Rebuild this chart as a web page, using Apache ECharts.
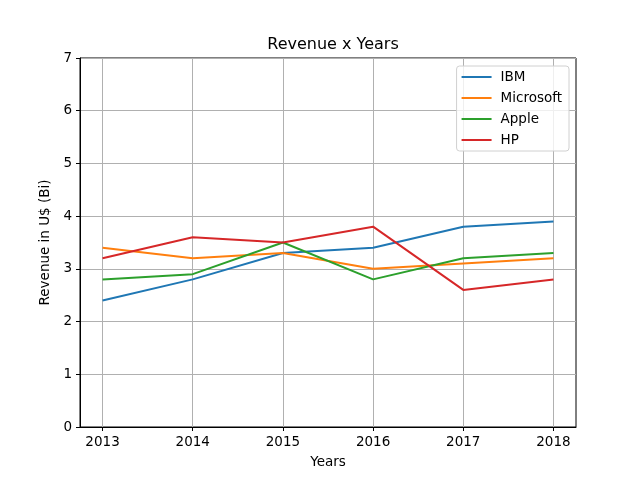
<!DOCTYPE html>
<html><head><meta charset="utf-8">
<script src="https://cdn.jsdelivr.net/npm/echarts@6/dist/echarts.min.js"></script>
<style>html,body{margin:0;padding:0;background:#fff}#c{width:640px;height:480px}</style>
</head><body><div id="c"></div>
<script>
const years = [2013, 2014, 2015, 2016, 2017, 2018];
const ibm = [2.4, 2.8, 3.3, 3.4, 3.8, 3.9];
const microsoft = [3.4, 3.2, 3.3, 3.0, 3.1, 3.2];
const apple = [2.8, 2.9, 3.5, 2.8, 3.2, 3.3];
const hp = [3.2, 3.6, 3.5, 3.8, 2.6, 2.8];
const yTicks = [0, 1, 2, 3, 4, 5, 6, 7];

const names = ['IBM', 'Microsoft', 'Apple', 'HP'];
const colors = ['#1f77b4', '#ff7f0e', '#2ca02c', '#d62728'];
const dataSets = [ibm, microsoft, apple, hp];
const font = 'DejaVu Sans';

const chart = echarts.init(document.getElementById('c'));
chart.setOption({
  animation: false,
  textStyle: {fontFamily: font},
  title: {text: 'Revenue x Years', left: 328, top: 32, textAlign: 'center',
    textStyle: {fontFamily: font, fontSize: 16, fontWeight: 'normal', color: '#000'}},
  grid: {left: 80, right: 64, top: 58, bottom: 53, show: true, borderColor: '#000', borderWidth: 1, containLabel: false},
  legend: {
    orient: 'vertical', right: 71, top: 66, itemWidth: 30, itemHeight: 2, itemGap: 7,
    padding: [4, 7, 4, 5],
    borderColor: '#d0d0d0', borderWidth: 1, borderRadius: 3, backgroundColor: 'rgba(255,255,255,0.8)',
    icon: 'rect',
    textStyle: {fontFamily: font, fontSize: 13.5, color: '#000', padding: [0, 0, 0, 4]},
    data: names
  },
  xAxis: {
    type: 'value', min: 2012.75, max: 2018.25,
    name: 'Years', nameLocation: 'middle', nameGap: 28,
    nameTextStyle: {fontFamily: font, fontSize: 13.5, color: '#000'},
    axisLine: {show: true, lineStyle: {color: '#000'}},
    axisTick: {show: true, length: 4, inside: false, customValues: years, lineStyle: {color: '#000'}},
    axisLabel: {customValues: years, fontFamily: font, fontSize: 13.5, color: '#000', margin: 8, formatter: v => String(v)},
    splitLine: {show: true, lineStyle: {color: '#b0b0b0', width: 1}}
  },
  yAxis: {
    type: 'value', min: 0, max: 7, interval: 1,
    name: 'Revenue in U$ (Bi)', nameLocation: 'middle', nameGap: 26,
    nameTextStyle: {fontFamily: font, fontSize: 13.5, color: '#000'},
    axisLine: {show: true, lineStyle: {color: '#000'}},
    axisTick: {show: true, length: 4, lineStyle: {color: '#000'}},
    axisLabel: {fontFamily: font, fontSize: 13.5, color: '#000', margin: 8},
    splitLine: {show: true, lineStyle: {color: '#b0b0b0', width: 1}}
  },
  series: names.map((n, i) => ({
    name: n, type: 'line', symbol: 'none', showSymbol: false,
    data: years.map((y, j) => [y, dataSets[i][j]]),
    lineStyle: {color: colors[i], width: 2}, itemStyle: {color: colors[i]}
  }))
});
</script></body></html>
